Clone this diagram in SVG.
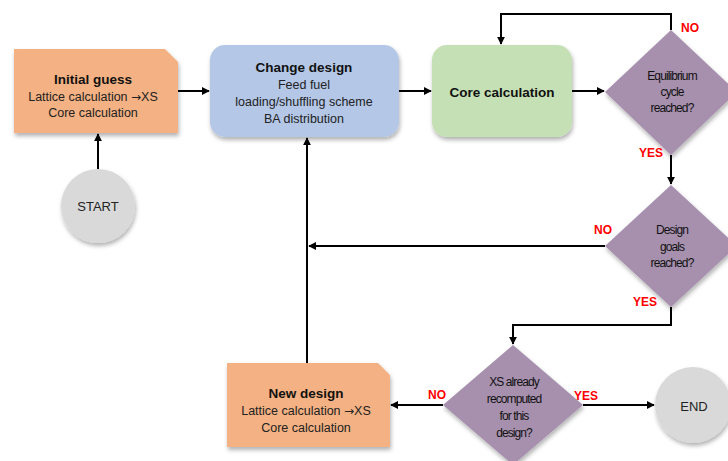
<svg xmlns="http://www.w3.org/2000/svg" width="728" height="461" viewBox="0 0 728 461">
<defs>
<filter id="sh" x="-20%" y="-20%" width="140%" height="150%">
<feDropShadow dx="1" dy="3" stdDeviation="2" flood-color="#000" flood-opacity="0.3"/>
</filter>
<marker id="ah" viewBox="0 0 10 10" refX="9" refY="5" markerWidth="4" markerHeight="4" orient="auto" markerUnits="strokeWidth">
<path d="M0,0 L10,5 L0,10 z" fill="#000"/>
</marker>
<style>
.t{font-family:"Liberation Sans",Arial,sans-serif;font-size:12.5px;fill:#222;text-anchor:middle}
.b{font-weight:bold;font-size:13.5px;fill:#111}
.ar{font-family:"DejaVu Sans",sans-serif;font-size:12px}
.d{font-family:"Liberation Sans",Arial,sans-serif;font-size:12px;letter-spacing:-0.9px;fill:#111;text-anchor:middle}
.r{font-family:"Liberation Sans",Arial,sans-serif;font-size:12px;font-weight:bold;fill:#FF0000;text-anchor:middle}
.c{fill:none;stroke:#000;stroke-width:2}
.a{marker-end:url(#ah)}
</style>
</defs>
<rect width="728" height="461" fill="#fff"/>
<g id="connectors">
<path class="c a" d="M178,91 H209"/>
<path class="c a" d="M399,91 H431"/>
<path class="c a" d="M572,91 H604"/>
<path class="c a" d="M671,30 V14 H501 V44"/>
<path class="c a" d="M671,155 V184"/>
<path class="c a" d="M605,246 H309"/>
<path class="c a" d="M307,363 V138"/>
<path class="c a" d="M671,307 V325 H513 V344"/>
<path class="c a" d="M443,405 H391"/>
<path class="c a" d="M583,405 H654"/>
<path class="c a" d="M98,169 V134"/>
</g>
<g id="initial-guess">
<path d="M14,49 H165 L178,62 V133 H14 Z" fill="#F4B183" filter="url(#sh)"/>
<text class="t b" x="93" y="84">Initial guess</text>
<text class="t" x="93" y="101">Lattice calculation <tspan class="ar">→</tspan>XS</text>
<text class="t" x="93" y="117">Core calculation</text>
</g>
<g id="change-design">
<rect x="210" y="45" width="189" height="92" rx="15" fill="#B4C7E7" filter="url(#sh)"/>
<text class="t b" x="304" y="72">Change design</text>
<text class="t" x="304" y="89">Feed fuel</text>
<text class="t" x="304" y="106">loading/shuffling scheme</text>
<text class="t" x="304" y="123">BA distribution</text>
</g>
<g id="core-calculation">
<rect x="432" y="45" width="140" height="92" rx="15" fill="#C5E0B4" filter="url(#sh)"/>
<text class="t b" x="502" y="97">Core calculation</text>
</g>
<g id="equilibrium">
<path d="M671,30 L737,92 L671,155 L605,92 Z" fill="#A790AE" filter="url(#sh)"/>
<text class="d" x="672" y="80">Equilibrium</text>
<text class="d" x="672" y="96">cycle</text>
<text class="d" x="672" y="112">reached?</text>
<text class="r" x="690" y="32">NO</text>
<text class="r" x="651" y="157">YES</text>
</g>
<g id="design-goals">
<path d="M671,185 L737,246 L671,307 L605,246 Z" fill="#A790AE" filter="url(#sh)"/>
<text class="d" x="672" y="234">Design</text>
<text class="d" x="672" y="251">goals</text>
<text class="d" x="672" y="267">reached?</text>
<text class="r" x="603" y="234">NO</text>
<text class="r" x="645" y="306">YES</text>
</g>
<g id="xs-recomputed">
<path d="M513,345 L583,405 L513,465 L443,405 Z" fill="#A790AE" filter="url(#sh)"/>
<text class="d" x="514" y="386">XS already</text>
<text class="d" x="514" y="403">recomputed</text>
<text class="d" x="514" y="420">for this</text>
<text class="d" x="514" y="437">design?</text>
<text class="r" x="437" y="399">NO</text>
<text class="r" x="586" y="400">YES</text>
</g>
<g id="new-design">
<path d="M227,363 H378 L390,375 V447 H227 Z" fill="#F4B183" filter="url(#sh)"/>
<text class="t b" x="306" y="398">New design</text>
<text class="t" x="306" y="415">Lattice calculation <tspan class="ar">→</tspan>XS</text>
<text class="t" x="306" y="432">Core calculation</text>
</g>
<g id="start">
<circle cx="98" cy="206" r="37" fill="#D9D9D9" filter="url(#sh)"/>
<text class="t" x="98" y="211" style="font-size:13px">START</text>
</g>
<g id="end">
<circle cx="693" cy="405" r="38" fill="#D9D9D9" filter="url(#sh)"/>
<text class="t" x="694" y="411" style="font-size:13px">END</text>
</g>
</svg>
